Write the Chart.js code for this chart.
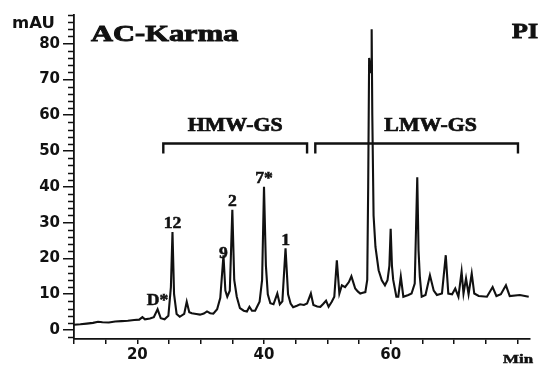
<!DOCTYPE html>
<html>
<head>
<meta charset="utf-8">
<script src="https://cdn.jsdelivr.net/npm/chart.js@4.4.1/dist/chart.umd.min.js"></script>
<style>
  body { margin: 0; background: #fff; }
</style>
</head>
<body>
<canvas id="chromChart" width="541" height="371"></canvas>
<script>
// RP-HPLC trace: retention time (min) and absorbance (mAU)
var times = [10.0, 11.0, 12.0, 13.0, 13.8, 14.5, 15.5, 16.5, 17.5, 18.5, 19.5, 20.3, 20.8, 21.2, 22.0, 22.6,
  23.2, 23.7, 24.3, 24.9, 25.3, 25.55, 25.8, 26.2, 26.7, 27.4, 27.8, 28.2, 28.6, 29.3, 29.9, 30.5,
  31.0, 31.5, 32.0, 32.6, 33.1, 33.6, 33.9, 34.2, 34.6, 35.0, 35.3, 35.7, 36.2, 36.8, 37.3, 37.7,
  38.1, 38.6, 39.3, 39.7, 40.0, 40.3, 40.6, 41.0, 41.5, 42.1, 42.5, 42.9, 43.4, 43.8, 44.2, 44.6,
  45.2, 45.7, 46.3, 46.8, 47.4, 47.8, 48.4, 48.9, 49.3, 49.8, 50.2, 50.7, 51.1, 51.5, 51.9, 52.3,
  52.8, 53.4, 53.8, 54.4, 54.8, 55.2, 55.6, 56.0, 56.3, 56.45, 56.6, 56.75, 56.9, 57.0, 57.1, 57.3,
  57.6, 58.1, 58.6, 59.1, 59.5, 59.8, 60.0, 60.2, 60.4, 60.9, 61.2, 61.6, 62.0, 62.8, 63.3, 63.8,
  64.2, 64.4, 64.6, 64.9, 65.5, 66.2, 66.8, 67.3, 68.1, 68.7, 69.1, 69.7, 70.2, 70.7, 71.2, 71.5,
  71.9, 72.3, 72.8, 73.2, 73.9, 75.2, 76.1, 76.7, 77.4, 78.2, 78.8, 80.4, 81.8];
var signal = [1.5, 1.6, 1.8, 2.0, 2.3, 2.2, 2.1, 2.4, 2.5, 2.6, 2.8, 2.9, 3.6, 3.0, 3.2, 3.6,
  5.8, 3.3, 3.0, 4.0, 12, 27.4, 10, 4.5, 3.7, 4.5, 7.9, 5.0, 4.7, 4.5, 4.3, 4.6,
  5.2, 4.7, 4.6, 5.8, 9.0, 20.9, 11, 9.3, 11, 33.6, 14, 9.3, 6.1, 5.4, 5.2, 6.5,
  5.4, 5.4, 7.9, 14, 40.0, 18, 10, 7.5, 7.2, 10.2, 7.2, 8.0, 22.8, 10, 7.4, 6.4,
  6.8, 7.2, 7.0, 7.4, 10.2, 7.0, 6.6, 6.5, 7.2, 8.2, 6.5, 7.9, 9.3, 19.5, 10.2, 12.5,
  12, 13.4, 15, 11.6, 10.8, 10.2, 10.4, 10.6, 14, 40, 76, 74, 72, 84, 60, 32,
  23.2, 16.7, 13.9, 12.5, 13.9, 18, 28.3, 18, 14, 9.3, 9.3, 14.9, 9.3, 9.8, 10.2, 13,
  42.7, 22.3, 15, 9.3, 9.8, 15.3, 11, 9.8, 10.2, 20.9, 10.2, 10, 11.6, 9.3, 16.3, 10.2,
  14.4, 10, 15.8, 10.2, 9.5, 9.3, 12, 9.5, 10, 12.5, 9.5, 9.8, 9.3];

var xTicks = [10, 15, 20, 25, 30, 35, 40, 45, 50, 55, 60, 65, 70, 75, 80];
var xLabels = [20, 40, 60];
var yTicks = [0, 10, 20, 30, 40, 50, 60, 70, 80];
var yMinorTicks = [-2, 2, 4, 6, 8, 12, 14, 16, 18, 22, 24, 26, 28, 32, 34, 36, 38, 42, 44, 46, 48,
  52, 54, 56, 58, 62, 64, 66, 68, 72, 74, 76, 78, 82, 84, 86, 88];

// named peaks
var peakNames = ['D*', '12', '9', '2', '7*', '1'];
var peakTimes = [23.2, 25.55, 33.6, 35.0, 40.0, 43.4];

// subunit groups marked with brackets
var groupNames = ['HMW-GS', 'LMW-GS'];
var groupStart = [24.1, 48.1];
var groupEnd = [46.8, 80.1];
var groupLevel = 52.1;
var groupDrop = 49.3;

var ink = '#111';
var serif = 'Liberation Serif';
var sans = 'DejaVu Sans';

// serif labels are drawn wide and heavy, filled then lightly stroked
function wideText(ctx, text, x, y, font, sx, align, heavy) {
  ctx.save();
  ctx.font = font;
  ctx.fillStyle = ink;
  ctx.strokeStyle = ink;
  ctx.textAlign = align || 'left';
  ctx.textBaseline = 'alphabetic';
  ctx.translate(x, y);
  ctx.scale(sx, 1);
  ctx.fillText(text, 0, 0);
  if (heavy) {
    ctx.lineWidth = heavy;
    ctx.strokeText(text, 0, 0);
  }
  ctx.restore();
}

var overlay = {
  id: 'overlay',
  afterDraw: function(chart) {
    var ctx = chart.ctx;
    var xs = chart.scales.x;
    var ys = chart.scales.y;
    var left = chart.chartArea.left;

    ctx.save();
    ctx.strokeStyle = ink;
    ctx.lineWidth = 1.5;
    ctx.beginPath();
    yMinorTicks.forEach(function(v) {
      var py = Math.round(ys.getPixelForValue(v)) + 0.5;
      ctx.moveTo(left - 6, py);
      ctx.lineTo(left, py);
    });
    ctx.stroke();

    // group brackets
    ctx.lineWidth = 2.4;
    var by = ys.getPixelForValue(groupLevel);
    var bd = ys.getPixelForValue(groupDrop);
    for (var i = 0; i < groupNames.length; i++) {
      var x0 = xs.getPixelForValue(groupStart[i]);
      var x1 = xs.getPixelForValue(groupEnd[i]);
      ctx.beginPath();
      ctx.moveTo(x0, bd);
      ctx.lineTo(x0, by);
      ctx.lineTo(x1, by);
      ctx.lineTo(x1, bd);
      ctx.stroke();
    }
    ctx.restore();

    var mid0 = (xs.getPixelForValue(groupStart[0]) + xs.getPixelForValue(groupEnd[0])) / 2;
    var mid1 = (xs.getPixelForValue(groupStart[1]) + xs.getPixelForValue(groupEnd[1])) / 2;
    wideText(ctx, groupNames[0], mid0, by - 13, 'bold 19px ' + serif, 1.15, 'center', 0.7);
    wideText(ctx, groupNames[1], mid1 + 14, by - 13, 'bold 19px ' + serif, 1.15, 'center', 0.7);

    // peak names sit just above each peak
    var lift = [-4, -4, 3, -4, -4, -3];
    peakNames.forEach(function(name, k) {
      var idx = times.indexOf(peakTimes[k]);
      var px = xs.getPixelForValue(peakTimes[k]);
      var py = ys.getPixelForValue(signal[idx]);
      wideText(ctx, name, px, py + lift[k], 'bold 16px ' + serif, 1.1, 'center', 0.5);
    });

    wideText(ctx, 'mAU', 12, 28, 'bold 15px ' + sans, 1.1, 'left');
    wideText(ctx, 'AC-Karma', 91, 41, 'bold 24px ' + serif, 1.27, 'left', 0.9);
    wideText(ctx, 'PI', 512, 38, 'bold 20px ' + serif, 1.3, 'left', 0.8);
    wideText(ctx, 'Min', 503, 363, 'bold 13px ' + serif, 1.3, 'left', 0.5);
  }
};

var ctx = document.getElementById('chromChart').getContext('2d');
new Chart(ctx, {
  type: 'line',
  data: {
    datasets: [{
      data: times.map(function(t, i) { return { x: t, y: signal[i] }; }),
      borderColor: ink,
      borderWidth: 2.1,
      pointRadius: 0,
      tension: 0,
      fill: false
    }]
  },
  options: {
    responsive: false,
    animation: false,
    layout: { padding: { left: 0, top: 15, right: 11, bottom: 0 } },
    plugins: {
      legend: { display: false },
      tooltip: { enabled: false }
    },
    scales: {
      x: {
        type: 'linear',
        min: 10,
        max: 82,
        afterBuildTicks: function(s) { s.ticks = xTicks.map(function(v) { return { value: v }; }); },
        afterFit: function(s) { s.height = 32; },
        ticks: {
          autoSkip: false,
          maxRotation: 0,
          padding: 2,
          color: ink,
          font: { family: sans, weight: 'bold', size: 15 },
          callback: function(v) { return xLabels.indexOf(v) >= 0 ? String(v) : ''; }
        },
        grid: { drawOnChartArea: false, tickLength: 5, color: ink, lineWidth: 1.5 },
        border: { color: ink, width: 1.8 }
      },
      y: {
        min: -2.5,
        max: 88,
        afterBuildTicks: function(s) { s.ticks = yTicks.map(function(v) { return { value: v }; }); },
        afterFit: function(s) { s.width = 74; },
        ticks: {
          padding: 3,
          color: ink,
          font: { family: sans, weight: 'bold', size: 15 }
        },
        grid: { drawOnChartArea: false, tickLength: 11, color: ink, lineWidth: 1.5 },
        border: { color: ink, width: 1.8 }
      }
    }
  },
  plugins: [overlay]
});
</script>
</body>
</html>
